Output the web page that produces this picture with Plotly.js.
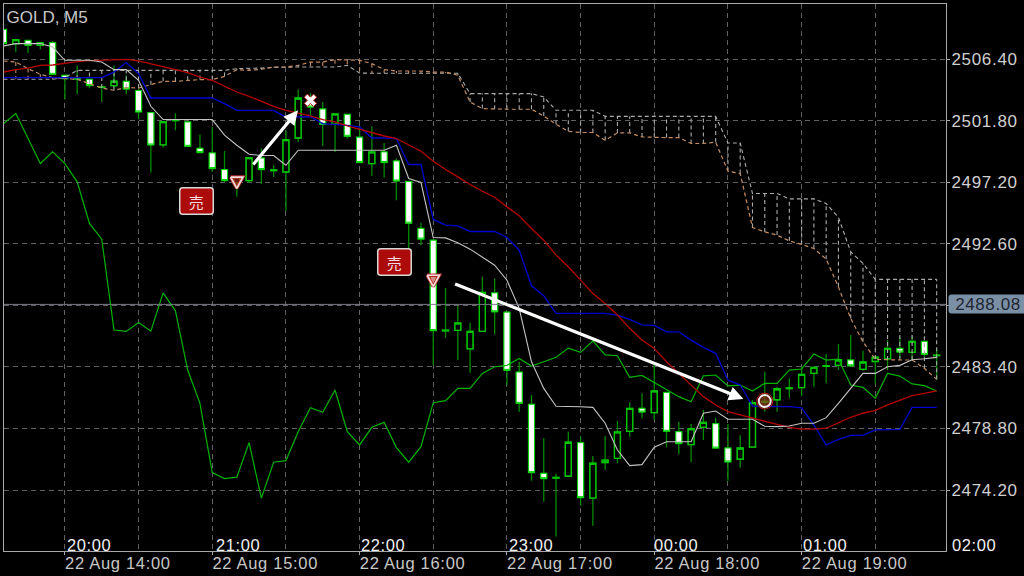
<!DOCTYPE html>
<html>
<head>
<meta charset="utf-8">
<script src="https://cdn.plot.ly/plotly-3.0.1.min.js"></script>
<style>
html,body{margin:0;padding:0;background:#000;}
#chart{width:1024px;height:576px;}
.annotation-text-g rect{rx:3px;ry:3px;}
.ytick text,.xtick text{letter-spacing:0.7px;}
.annotation-text{letter-spacing:0.6px;}
</style>
</head>
<body>
<div id="chart"></div>
<script>
const symbolTitle = 'GOLD, M5';

const open = [2508.64,2507.58,2507.82,2507.45,2507.65,2505.21,2504.93,2504.91,2504.31,2504.44,2504.76,2504.07,2502.42,2500.00,2501.82,2501.72,2499.75,2499.40,2498.16,2497.14,
  2497.34,2499.03,2498.09,2497.98,2500.52,2503.59,2502.69,2501.55,2502.29,2500.58,2498.61,2499.48,2498.81,2497.27,2493.76,2492.88,2486.11,2486.14,2484.76,2486.06,
  2488.94,2487.50,2483.02,2480.61,2475.45,2475.10,2475.23,2477.74,2473.59,2476.25,2476.57,2478.59,2480.31,2479.98,2481.50,2478.56,2477.59,2478.89,2479.16,2477.34,
  2476.50,2477.40,2480.78,2480.95,2481.78,2481.85,2482.92,2483.45,2483.52,2483.92,2483.22,2483.81,2484.01,2484.79,2484.49,2485.31,2484.25];
const close = [2507.58,2507.87,2507.45,2507.65,2505.28,2504.96,2505.01,2504.44,2504.35,2504.78,2504.18,2502.47,2500.00,2501.75,2501.87,2499.90,2499.43,2498.24,2497.34,2497.59,
  2499.06,2498.16,2498.13,2500.40,2503.51,2502.84,2501.55,2502.32,2500.65,2498.69,2499.48,2498.69,2497.31,2494.15,2492.96,2486.12,2486.16,2486.70,2486.06,2488.97,
  2487.53,2483.15,2480.68,2475.50,2475.05,2475.15,2477.77,2473.63,2476.20,2476.43,2478.54,2480.31,2480.03,2481.62,2478.59,2477.67,2478.79,2479.26,2477.34,2476.30,
  2477.34,2480.73,2480.83,2481.77,2481.83,2482.85,2483.37,2483.49,2483.94,2483.49,2483.77,2484.14,2484.79,2484.52,2485.31,2484.34,2484.29];
const high = [2508.64,2507.90,2507.82,2507.67,2507.77,2505.21,2505.95,2504.91,2504.46,2505.95,2505.21,2504.39,2502.42,2501.77,2502.37,2501.72,2500.78,2501.35,2499.55,2497.66,
  2499.08,2499.73,2498.48,2501.10,2504.14,2503.89,2503.21,2502.32,2502.29,2501.40,2501.40,2500.15,2499.01,2497.29,2494.17,2492.88,2489.30,2487.95,2486.73,2490.14,
  2490.02,2487.50,2483.79,2481.30,2478.07,2475.40,2478.56,2478.19,2476.75,2478.24,2479.36,2480.76,2481.43,2483.54,2481.50,2479.31,2479.14,2480.18,2479.61,2479.14,
  2478.29,2480.93,2483.04,2481.92,2482.55,2483.42,2483.37,2484.37,2485.11,2485.79,2484.61,2484.14,2485.41,2485.66,2485.79,2485.31,2484.79];
const low = [2507.58,2506.95,2506.87,2507.15,2505.28,2503.39,2503.79,2504.24,2503.21,2504.24,2503.79,2501.92,2497.94,2499.81,2501.10,2499.90,2499.43,2497.98,2497.24,2496.12,
  2497.16,2497.09,2497.61,2495.07,2500.22,2502.22,2499.90,2499.48,2500.48,2498.69,2497.69,2497.57,2495.87,2492.13,2492.51,2483.54,2485.58,2483.92,2482.97,2486.06,
  2485.84,2482.05,2480.06,2474.90,2473.33,2470.72,2475.23,2473.03,2471.52,2475.70,2476.20,2478.19,2479.56,2479.44,2477.40,2476.87,2476.28,2477.94,2477.29,2474.90,
  2475.87,2477.40,2480.06,2480.06,2481.06,2481.23,2481.92,2482.18,2483.17,2483.42,2483.12,2482.18,2483.17,2484.04,2483.92,2484.16,2482.42];

const tenkan = [2507.40,2507.58,2507.58,2507.58,2507.32,2506.33,2506.33,2506.33,2506.20,2505.63,2505.63,2504.83,2502.89,2501.90,2501.90,2501.90,2501.90,2501.90,2500.73,2499.98,
  2499.31,2499.21,2499.21,2498.48,2499.61,2499.61,2499.61,2499.61,2499.61,2499.61,2499.61,2499.61,2499.98,2497.49,2497.19,2493.08,2493.05,2492.68,2492.21,2491.59,
  2491.01,2489.89,2487.78,2483.79,2481.80,2480.46,2480.46,2480.43,2480.38,2479.19,2477.19,2476.02,2476.10,2477.40,2477.81,2477.81,2477.81,2479.94,2480.11,2479.49,
  2479.49,2479.49,2478.97,2478.94,2478.99,2479.19,2479.19,2479.61,2480.68,2481.80,2482.92,2482.92,2483.42,2483.52,2483.94,2484.01,2484.12];
const kijun = [2505.04,2505.04,2505.04,2505.04,2505.04,2505.04,2505.04,2505.04,2505.04,2505.45,2506.16,2505.33,2503.51,2503.51,2503.51,2503.51,2503.51,2503.51,2503.09,2502.59,
  2502.59,2502.59,2502.59,2502.09,2502.12,2502.12,2501.60,2501.55,2501.47,2501.35,2500.52,2500.52,2500.48,2498.54,2498.54,2494.43,2494.00,2493.95,2493.53,2493.53,
  2493.53,2493.08,2492.13,2489.47,2488.72,2487.41,2487.41,2487.41,2487.41,2487.41,2487.28,2486.96,2486.55,2486.51,2486.03,2486.03,2485.41,2484.87,2484.42,2482.42,
  2482.05,2480.48,2480.46,2480.46,2480.43,2480.35,2479.06,2477.57,2477.99,2478.29,2478.29,2478.69,2478.74,2478.74,2480.38,2480.38,2480.38];
const movingAvg = [2505.45,2505.63,2505.75,2505.95,2505.98,2506.13,2506.23,2506.31,2506.35,2506.40,2506.40,2506.28,2506.08,2505.83,2505.63,2505.41,2505.08,2504.83,2504.39,2503.96,
  2503.64,2503.27,2502.89,2502.59,2502.39,2502.17,2501.90,2501.72,2501.42,2501.17,2500.93,2500.67,2500.48,2500.03,2499.53,2498.78,2498.16,2497.61,2497.04,2496.54,
  2496.09,2495.37,2494.70,2493.76,2492.88,2491.76,2490.89,2489.89,2488.90,2488.15,2487.28,2486.29,2485.41,2484.79,2483.79,2482.92,2482.05,2481.18,2480.56,2480.06,
  2479.81,2479.56,2479.31,2479.11,2478.89,2478.76,2478.76,2478.82,2479.23,2479.64,2479.94,2480.16,2480.56,2480.93,2481.25,2481.43,2481.62];
const chikou = [2501.60,2502.35,2500.48,2498.61,2499.48,2498.61,2497.24,2494.13,2492.96,2486.16,2486.06,2486.73,2486.08,2488.94,2487.60,2483.17,2480.68,2475.50,2475.05,2475.16,
  2477.74,2473.59,2476.28,2476.40,2478.56,2480.35,2480.01,2481.68,2478.56,2477.57,2478.89,2479.26,2477.37,2476.28,2477.44,2480.73,2480.88,2481.80,2481.80,2482.92,
  2483.42,2483.52,2484.04,2483.47,2483.79,2484.12,2484.81,2484.49,2485.36,2484.31,2484.24,2482.63,2482.77,2482.25,2481.75,2481.18,2480.80,2482.74,2482.80,2481.98,
  2482.05,2481.60,2482.18,2482.18,2483.17,2483.25,2484.37,2483.92,2483.99,2482.05,2481.88,2481.06,2482.92,2482.72,2482.13,2482.00,2481.60];
const senkouA = [2506.28,2506.20,2505.71,2505.28,2505.04,2504.96,2504.91,2504.59,2504.26,2504.09,2504.29,2504.26,2504.51,2504.76,2504.76,2504.83,2504.89,2504.89,2505.13,2505.63,
  2505.58,2505.66,2505.83,2505.83,2505.95,2506.20,2506.20,2506.38,2506.33,2506.33,2506.08,2505.63,2505.53,2505.53,2505.53,2505.45,2505.45,2505.21,2503.21,2502.72,
  2502.67,2502.67,2502.67,2502.67,2502.17,2501.55,2501.02,2500.93,2500.93,2500.35,2500.90,2500.90,2500.60,2500.55,2500.55,2500.55,2500.11,2500.11,2500.22,2498.04,
  2497.86,2493.83,2493.50,2493.26,2492.83,2492.56,2492.26,2491.46,2489.39,2487.03,2485.28,2483.97,2483.92,2483.92,2483.92,2483.30,2482.48];
const senkouB = [2504.91,2504.91,2504.91,2504.91,2504.91,2505.04,2505.58,2505.58,2505.58,2505.58,2505.58,2505.58,2505.58,2505.58,2505.58,2505.58,2505.58,2505.58,2505.58,2505.71,
  2505.71,2505.75,2505.80,2505.83,2505.83,2505.83,2505.83,2505.83,2505.95,2505.38,2505.36,2505.36,2505.36,2505.36,2505.36,2505.36,2505.36,2505.36,2503.84,2503.84,
  2503.84,2503.84,2503.84,2503.84,2503.59,2502.59,2502.59,2502.59,2502.59,2502.14,2502.14,2502.14,2502.14,2502.14,2502.14,2502.14,2502.14,2502.14,2502.14,2500.15,
  2500.15,2496.37,2496.37,2496.37,2495.97,2495.97,2495.97,2495.62,2494.58,2492.01,2491.14,2489.95,2489.95,2489.95,2489.95,2489.95,2489.95];

const priceTicks = [2506.40,2501.80,2497.20,2492.60,2488.00,2483.40,2478.80,2474.20];
const priceTickText = ['2506.40','2501.80','2497.20','2492.60','','2483.40','2478.80','2474.20'];
const dateTicks = [5,17,29,41,53,65];
const dateTickText = ['22 Aug 14:00','22 Aug 15:00','22 Aug 16:00','22 Aug 17:00','22 Aug 18:00','22 Aug 19:00'];
const halfHourTicks = [11,23,35,47,59,71];
const hourLabels = ['20:00','21:00','22:00','23:00','00:00','01:00','02:00'];
const hourLabelPos = [6.96,19.13,30.93,42.98,54.78,66.91,79.04];
const currentPrice = 2488.08;
const xRange = [0.04,76.76];
const yRange = [2469.64,2510.54];

const sellSignalX = [19,35];
const sellSignalY = [2497.18,2489.84];
const sellLabelX = [15.74,31.83];
const sellLabelY = [2495.78,2491.24];
const exitX = [25];
const exitY = [2503.34];
const closeX = [62];
const closeY = [2480.85];
const arrowTail = [[20.24,2498.43],[36.66,2489.65]];
const arrowHead = [[23.99,2502.59],[60.26,2481.01]];

const idx = open.map((_, i) => i);
const bodyHigh = open.map((o, i) => Math.max(o, close[i]));
const bodyLow = open.map((o, i) => Math.min(o, close[i]));

function hatch(upperIsA) {
  const xs = [], ys = [];
  idx.forEach(i => {
    if ((senkouA[i] > senkouB[i]) === upperIsA) {
      xs.push(i, i, null);
      ys.push(senkouA[i], senkouB[i], null);
    }
  });
  return {xs, ys};
}
const tanHatch = hatch(true), grayHatch = hatch(false);

const triX = [], triY = [];
sellSignalX.forEach((c, k) => {
  const p = sellSignalY[k];
  triX.push(c-0.5, c+0.5, c, c-0.5, null);
  triY.push(p+0.42, p+0.42, p-0.42, p+0.42, null);
});

const TAN = '#c48c62', GRAY = '#ababab', DASH = '4px,3px';
function lineTrace(y, color, width, dash) {
  return {type:'scatter', mode:'lines', x:idx, y, hoverinfo:'skip', showlegend:false,
    line:{color, width, dash:dash||'solid'}};
}
const traces = [
  {type:'candlestick', x:idx, open, high, low, close, whiskerwidth:0, hoverinfo:'skip', showlegend:false,
    increasing:{line:{color:'#008a00',width:1.3}, fillcolor:'#000000'},
    decreasing:{line:{color:'#008a00',width:1.3}, fillcolor:'#ffffff'}},
  {type:'candlestick', x:idx, open, high:bodyHigh, low:bodyLow, close, whiskerwidth:0, hoverinfo:'skip', showlegend:false,
    increasing:{line:{color:'#00c400',width:1.3}, fillcolor:'rgba(0,0,0,0)'},
    decreasing:{line:{color:'#00d400',width:1}, fillcolor:'#ffffff'}},
  {type:'scatter', mode:'lines', x:tanHatch.xs, y:tanHatch.ys, hoverinfo:'skip', showlegend:false, connectgaps:false,
    line:{color:TAN, width:1.1, dash:DASH}},
  {type:'scatter', mode:'lines', x:grayHatch.xs, y:grayHatch.ys, hoverinfo:'skip', showlegend:false, connectgaps:false,
    line:{color:GRAY, width:1.1, dash:DASH}},
  lineTrace(senkouB, GRAY, 1.1, DASH),
  lineTrace(senkouA, TAN, 1.2, DASH),
  lineTrace(chikou, '#00b400', 1.2),
  lineTrace(kijun, '#0000d0', 1.3),
  lineTrace(movingAvg, '#b80000', 1.3),
  lineTrace(tenkan, '#c4c4c4', 1.1),
  {type:'scatter', mode:'lines', x:triX, y:triY, hoverinfo:'skip', showlegend:false,
    line:{color:'#b83030', width:3.4}},
  {type:'scatter', mode:'lines', x:triX, y:triY, fill:'toself', fillcolor:'rgba(190,40,30,0.55)', hoverinfo:'skip', showlegend:false,
    line:{color:'#f2dcdc', width:1.7}},
  {type:'scatter', mode:'markers', x:exitX, y:exitY, hoverinfo:'skip', showlegend:false,
    marker:{symbol:'x', size:11, color:'#ffffff', line:{color:'#c01818', width:1}}},
  {type:'scatter', mode:'markers', x:closeX, y:closeY, hoverinfo:'skip', showlegend:false,
    marker:{symbol:'circle', size:16, color:'rgba(0,0,0,0)', line:{color:'#c01818', width:1}}},
  {type:'scatter', mode:'markers', x:closeX, y:closeY, hoverinfo:'skip', showlegend:false,
    marker:{symbol:'circle', size:12, color:'rgba(150,60,30,0.65)', line:{color:'#f5e6e0', width:2}}}
];

const W = 1024, H = 576;
const margin = {l:3.5, r:78, t:3.5, b:25, pad:0};
const annotations = [];
hourLabels.forEach((t, k) => annotations.push({
  xref:'paper', yref:'paper', x:(hourLabelPos[k]-xRange[0])/(xRange[1]-xRange[0]), y:0, yshift:-4.5, xanchor:'center', yanchor:'bottom',
  text:t, showarrow:false, font:{family:'"Liberation Sans",Arial,sans-serif', size:16.5, color:'#f0f0f0'}}));
sellLabelX.forEach((x, k) => annotations.push({
  xref:'x', yref:'y', x, y:sellLabelY[k], text:'売', showarrow:false, width:30, height:23, align:'center', valign:'middle',
  bgcolor:'#ad0a0a', bordercolor:'#d8d8d8', borderwidth:1.5, borderpad:1,
  font:{family:'"Noto Sans CJK JP",sans-serif', size:15, color:'#f5dcdc'}}));
arrowTail.forEach((t, k) => annotations.push({
  xref:'x', yref:'y', axref:'x', ayref:'y', x:arrowHead[k][0], y:arrowHead[k][1], ax:t[0], ay:t[1], text:'',
  showarrow:true, arrowhead:2, arrowsize:0.9, arrowwidth:3.2, arrowcolor:'#ffffff', standoff:0}));
annotations.push({
  xref:'paper', yref:'y', x:1, y:currentPrice, xanchor:'left', yanchor:'middle', xshift:1.5, text:currentPrice.toFixed(2), showarrow:false,
  width:74, height:14, align:'center', bgcolor:'#7b8fa5', borderpad:2,
  font:{family:'"Liberation Sans",Arial,sans-serif', size:17, color:'#1e2632'}});

const layout = {
  width:W, height:H, margin, paper_bgcolor:'#000000', plot_bgcolor:'#000000', showlegend:false, dragmode:false,
  title:{text:symbolTitle, x:6.5/W, xanchor:'left', xref:'container', y:1-17/H, yanchor:'middle', yref:'container',
    font:{family:'"Liberation Sans",Arial,sans-serif', size:17, color:'#c8c8c8'}},
  xaxis:{type:'linear', range:xRange, rangeslider:{visible:false}, fixedrange:true,
    tickmode:'array', tickvals:dateTicks, ticktext:dateTickText, ticks:'outside', ticklen:3, tickcolor:'#aaaaaa', tickwidth:1,
    ticklabelshift:53, ticklabelstandoff:-6,
    tickfont:{family:'"Liberation Sans",Arial,sans-serif', size:16.5, color:'#c8c8c8'},
    showgrid:true, gridcolor:'#626262', griddash:'5px,4px', gridwidth:1, zeroline:false,
    minor:{tickmode:'array', tickvals:halfHourTicks, ticks:'', showgrid:true, gridcolor:'#626262', griddash:'5px,4px', gridwidth:1},
    showline:true, linecolor:'#a8a8a8', linewidth:1, mirror:true},
  yaxis:{type:'linear', range:yRange, side:'right', fixedrange:true,
    tickmode:'array', tickvals:priceTicks, ticktext:priceTickText, ticks:'outside', ticklen:3, tickcolor:'#aaaaaa', tickwidth:1,
    ticklabelstandoff:-2,
    tickfont:{family:'"Liberation Sans",Arial,sans-serif', size:17, color:'#d0d0d0'},
    showgrid:true, gridcolor:'#626262', griddash:'5px,4px', gridwidth:1, zeroline:false,
    showline:true, linecolor:'#a8a8a8', linewidth:1, mirror:true},
  shapes:[{type:'line', xref:'paper', yref:'y', x0:0, x1:1, y0:currentPrice, y1:currentPrice, line:{color:'#7c7c88', width:1}, layer:'above'}],
  annotations
};
Plotly.newPlot('chart', traces, layout, {displayModeBar:false, staticPlot:true});
</script>
</body>
</html>
